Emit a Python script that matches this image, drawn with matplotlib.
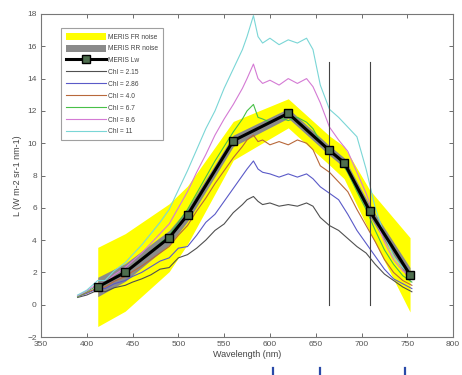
import matplotlib
matplotlib.use("Agg")
import matplotlib.pyplot as plt
from matplotlib.lines import Line2D
import numpy as np

# ---------------- data ----------------
bands = [412, 442, 490, 510, 560, 620, 665, 681, 709, 753]
meris_lw = [1.1, 2.0, 4.15, 5.55, 10.15, 11.85, 9.55, 8.8, 5.8, 1.85]
fr_noise = [2.45, 2.4, 2.1, 1.8, 1.2, 0.9, 0.9, 1.0, 1.3, 2.3]
rr_noise = [0.6, 0.55, 0.45, 0.4, 0.35, 0.3, 0.3, 0.3, 0.35, 0.45]

wl = [390, 400, 412, 420, 430, 442, 450, 460, 470, 480, 490, 500, 510, 520,
      530, 540, 550, 560, 570, 575, 582, 587, 592, 600, 610, 620, 630, 640,
      647, 655, 665, 675, 685, 695, 705, 715, 725, 735, 745, 755]

chl_2_15 = [0.45, 0.6, 0.9, 0.8, 1.05, 1.2, 1.4, 1.6, 1.85, 2.2, 2.3, 2.9, 3.1, 3.5,
            4.0, 4.6, 5.0, 5.7, 6.2, 6.5, 6.7, 6.4, 6.2, 6.3, 6.1, 6.2, 6.1, 6.3,
            6.1, 5.4, 4.9, 4.6, 4.1, 3.6, 3.2, 2.5, 1.9, 1.5, 1.1, 0.8]
chl_2_86 = [0.5, 0.7, 1.0, 1.0, 1.3, 1.5, 1.75, 2.0, 2.35, 2.7, 2.9, 3.5, 3.6, 4.3,
            5.1, 5.6, 6.4, 7.2, 8.0, 8.4, 8.9, 8.4, 8.2, 8.1, 7.9, 8.1, 7.9, 8.1,
            7.8, 7.3, 6.9, 6.5, 5.6, 4.6, 3.8, 3.0, 2.2, 1.6, 1.3, 1.0]
chl_4_0 = [0.5, 0.75, 1.05, 1.1, 1.45, 1.75, 2.05, 2.4, 2.8, 3.2, 3.6, 4.3, 4.9, 5.8,
           6.6, 7.5, 8.3, 9.1, 9.8, 10.2, 10.5, 10.1, 10.2, 9.9, 10.1, 9.9, 10.2, 10.0,
           9.6, 8.6, 8.2, 7.6, 7.0, 5.9, 4.9, 3.9, 2.8, 2.0, 1.5, 1.2]
chl_6_7 = [0.5, 0.8, 1.2, 1.25, 1.7, 2.05, 2.4, 2.85, 3.3, 3.8, 4.3, 5.1, 5.9, 6.9,
           7.9, 8.9, 9.8, 10.7, 11.5, 12.0, 12.4, 11.6, 11.5, 11.3, 11.6, 11.4, 11.6, 11.3,
           10.9, 10.1, 9.6, 9.0, 8.2, 7.0, 5.9, 4.6, 3.4, 2.5, 1.8, 1.4]
chl_8_6 = [0.55, 0.85, 1.3, 1.35, 1.85, 2.3, 2.7, 3.2, 3.8, 4.4, 5.0, 6.0, 7.0, 8.2,
           9.3, 10.5, 11.5, 12.4, 13.4, 14.0, 14.9, 14.0, 13.7, 13.9, 13.6, 14.0, 13.7, 14.0,
           13.5, 12.5, 11.0, 10.2, 9.5, 8.2, 6.9, 5.3, 3.9, 2.8, 2.1, 1.7]
chl_11 = [0.6, 0.9, 1.5, 1.5, 2.1, 2.6, 3.1, 3.7, 4.4, 5.1, 5.9, 7.1, 8.3, 9.6,
          10.9, 12.0, 13.4, 14.6, 15.8, 16.6, 17.9, 16.6, 16.2, 16.5, 16.1, 16.4, 16.2, 16.5,
          15.8, 13.6, 12.1, 11.6, 11.0, 10.4, 8.4, 6.0, 4.3, 3.0, 2.3, 1.9]

chl_labels = ["Chl = 2.15", "Chl = 2.86", "Chl = 4.0", "Chl = 6.7", "Chl = 8.6", "Chl = 11"]
chl_series = [chl_2_15, chl_2_86, chl_4_0, chl_6_7, chl_8_6, chl_11]
chl_colors = ["#505050", "#5a5ac8", "#b8683a", "#48c048", "#d47ad4", "#7ad6d6"]

vline_wl = [665, 709]
vline_range = [0, 15]

x_ticks = [350, 400, 450, 500, 550, 600, 650, 700, 750, 800]
y_ticks = [-2, 0, 2, 4, 6, 8, 10, 12, 14, 16, 18]

# ---------------- plot ----------------
plt.rcParams['font.family'] = ['Liberation Sans', 'DejaVu Sans']
fig = plt.figure(figsize=(4.62, 3.75), dpi=100)
ax = fig.add_axes([0.0887, 0.1013, 0.892, 0.8614])

b = np.array(bands, dtype=float)
lw_arr = np.array(meris_lw)
fr = np.array(fr_noise)
rr = np.array(rr_noise)

h_fr = ax.fill_between(b, lw_arr - fr, lw_arr + fr, color="#ffff00", lw=0, zorder=1)
h_rr = ax.fill_between(b, lw_arr - rr, lw_arr + rr, color="#8a8a8a", lw=0, zorder=2)

chl_handles = []
for ys, c, lab in zip(chl_series, chl_colors, chl_labels):
    h, = ax.plot(wl, ys, color=c, lw=0.8, zorder=3)
    chl_handles.append(h)

for v in vline_wl:
    ax.plot([v, v], vline_range, color="#444444", lw=0.8, zorder=4)

h_lw, = ax.plot(b, lw_arr, color="black", lw=2.2, marker="s", ms=5.5,
                mfc="#4e6e4e", mec="black", mew=1.0, zorder=5)

ax.set_xlim(350, 800)
ax.set_ylim(-2, 18)
ax.set_xticks(x_ticks)
ax.set_yticks(y_ticks)
ax.tick_params(direction="in", top=True, right=True, length=3, width=0.6,
               labelsize=6, colors="#555555", pad=3)
for s in ax.spines.values():
    s.set_color("#777777")
    s.set_linewidth(0.8)

ax.set_xlabel("Wavelength (nm)", fontsize=6.5, color="#444444", labelpad=1)
ax.set_ylabel("L (W m-2 sr-1 nm-1)", fontsize=6.5, color="#444444", labelpad=4)

leg = ax.legend([h_fr, h_rr, h_lw] + chl_handles,
                ["MERIS FR noise", "MERIS RR noise", "MERIS Lw"] + chl_labels,
                loc="upper left", bbox_to_anchor=(0.041, 0.968), fontsize=4.8,
                handlelength=6.0, handleheight=1.3, labelspacing=0.6,
                borderpad=0.75, handletextpad=0.3, frameon=True, fancybox=False,
                edgecolor="#888888", labelcolor="#444444")
leg.get_frame().set_linewidth(0.8)

# blue fragments below the chart (cropped text in the original)
for xp in [273, 320, 405]:
    fig.add_artist(Line2D([xp / 462, xp / 462], [1 - 368 / 375, 0.0],
                          color="#2a4aa8", lw=1.6))

fig.savefig("out.png", dpi=100)
